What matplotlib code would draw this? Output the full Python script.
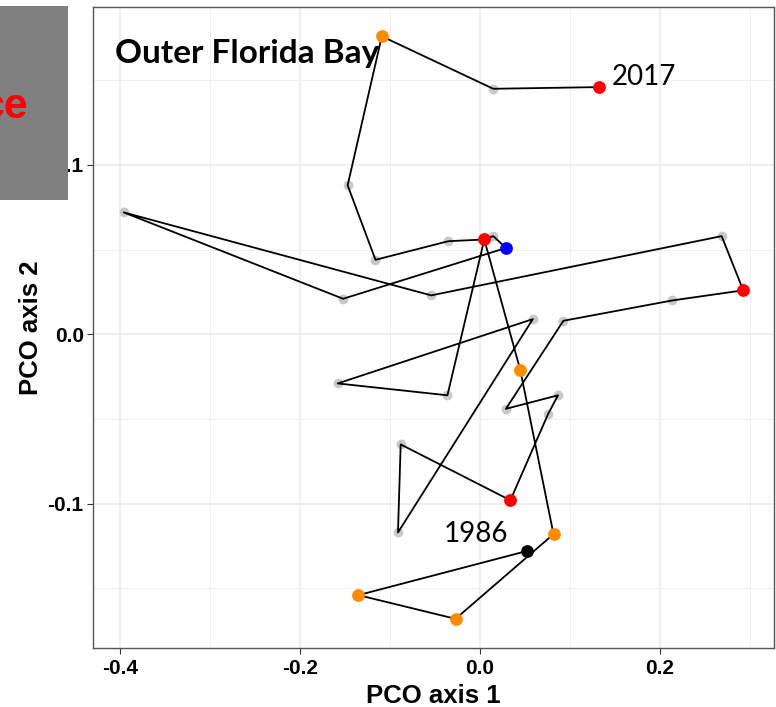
import matplotlib
matplotlib.use('Agg')
import matplotlib.pyplot as plt
from matplotlib.ticker import MultipleLocator
from matplotlib.patches import Rectangle

# PCO scores in time order, first year to last
pco1 = [0.052, -0.135, -0.027, 0.082, 0.045, 0.005, -0.036, -0.158, 0.059, -0.091,
        -0.088, 0.034, 0.076, 0.087, 0.029, 0.093, 0.214, 0.293, 0.269, -0.054,
        -0.396, -0.152, 0.029, 0.015, 0.005, -0.035, -0.116, -0.147, -0.109, 0.015,
        0.133]
pco2 = [-0.128, -0.154, -0.168, -0.118, -0.021, 0.056, -0.036, -0.029, 0.009, -0.117,
        -0.065, -0.098, -0.047, -0.036, -0.044, 0.008, 0.020, 0.026, 0.058, 0.023,
        0.072, 0.021, 0.051, 0.058, 0.056, 0.055, 0.044, 0.088, 0.176, 0.145,
        0.146]
point_colors = ['black', 'darkorange', 'darkorange', 'darkorange', 'darkorange', 'red',
                'grey', 'grey', 'grey', 'grey', 'grey', 'red', 'grey', 'grey', 'grey',
                'grey', 'grey', 'red', 'grey', 'grey', 'grey', 'grey', 'blue', 'grey',
                'grey', 'grey', 'grey', 'grey', 'darkorange', 'grey', 'red']
first_year = '1986'
last_year = '2017'

fig = plt.figure(figsize=(7.76, 7.07), dpi=100)
ax = fig.add_axes([0.1195, 0.0835, 0.8779, 0.9059])

ax.plot(pco1, pco2, color='black', lw=1.3, zorder=3)

grey_x = [x for x, c in zip(pco1, point_colors) if c == 'grey']
grey_y = [y for y, c in zip(pco2, point_colors) if c == 'grey']
ax.scatter(grey_x, grey_y, s=50, color='#c4c4c4', alpha=0.9, lw=0, zorder=2)
for x, y, c in zip(pco1, pco2, point_colors):
    if c != 'grey':
        ax.scatter(x, y, s=85, color=c, lw=0, zorder=4)

ax.annotate(first_year, (pco1[0], pco2[0]), xytext=(-13.5, 6.5), textcoords='offset points',
            ha='right', va='baseline', fontsize=20, family='Lato')
ax.annotate(last_year, (pco1[-1], pco2[-1]), xytext=(9, 1.5), textcoords='offset points',
            ha='left', va='baseline', fontsize=20, family='Lato')
ax.text(0.032, 0.913, 'Outer Florida Bay', transform=ax.transAxes, fontsize=24,
        fontweight='bold', family='Lato', va='baseline', zorder=5)

ax.set_xlim(-0.4305, 0.3272)
ax.set_ylim(-0.1852, 0.1930)
ax.xaxis.set_major_locator(MultipleLocator(0.2))
ax.xaxis.set_minor_locator(MultipleLocator(0.1))
ax.yaxis.set_major_locator(MultipleLocator(0.1))
ax.yaxis.set_minor_locator(MultipleLocator(0.05))
ax.xaxis.set_major_formatter(lambda v, p: f'{v:.1f}')
ax.yaxis.set_major_formatter(lambda v, p: f'{v:.1f}')

ax.grid(which='major', color='#ebebeb', lw=1.1, zorder=0)
ax.grid(which='minor', color='#f0f0f0', lw=0.8, zorder=0)
ax.set_axisbelow(True)
for s in ax.spines.values():
    s.set_color('#555555')
    s.set_linewidth(1.0)

ax.tick_params(which='major', length=4, width=0.8, color='#333333', labelsize=15)
ax.tick_params(axis='x', pad=4)
ax.tick_params(axis='y', pad=2.5)
ax.tick_params(which='minor', length=0)
for lab in ax.get_xticklabels() + ax.get_yticklabels():
    lab.set_fontweight('bold')
    lab.set_family('Liberation Sans')

ax.set_xlabel('PCO axis 1', fontsize=18.5, fontweight='bold', family='Liberation Sans', labelpad=4)
ax.set_ylabel('PCO axis 2', fontsize=18.5, fontweight='bold', family='Liberation Sans', labelpad=3)

# grey box with red text in the top-left corner, drawn over the axis labels
fig.patches.append(Rectangle((0, 507 / 707), 68 / 776, 194 / 707, transform=fig.transFigure,
                             facecolor='#808080', edgecolor='none', zorder=10))
fig.text(28 / 776, (707 - 118) / 707, 'ce', color='red', fontsize=31, fontweight='bold',
         family='Liberation Sans', ha='right', va='baseline', zorder=11)

fig.savefig('out.png', dpi=100)
